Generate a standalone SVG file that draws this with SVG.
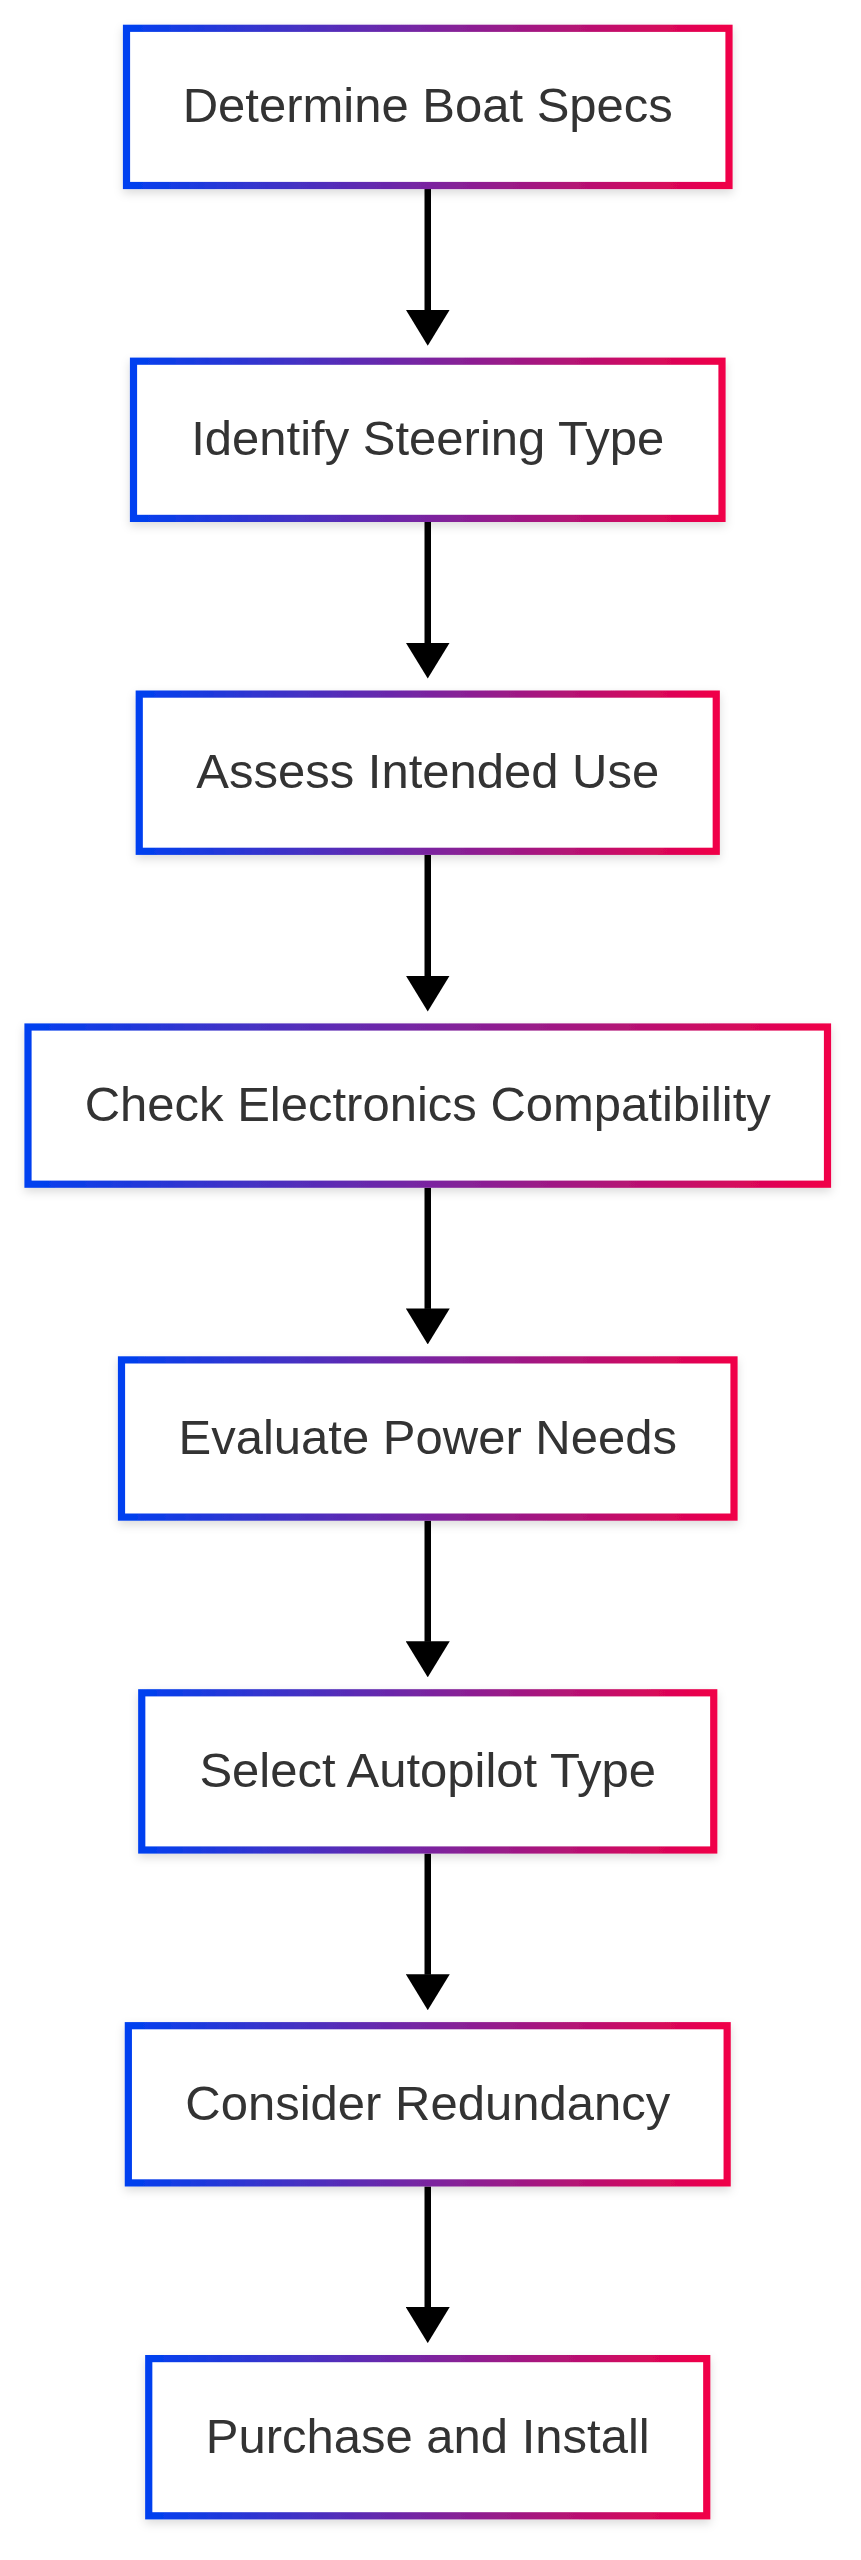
<svg xmlns="http://www.w3.org/2000/svg" width="861" height="2560" viewBox="0 0 861 2560">
<defs>
<linearGradient id="g" x1="0" y1="0" x2="1" y2="0">
<stop offset="0" stop-color="#0040f0"/>
<stop offset="0.5" stop-color="#7a24a0"/>
<stop offset="1" stop-color="#f00048"/>
</linearGradient>
<filter id="sh" x="-10%" y="-20%" width="120%" height="150%">
<feDropShadow dx="0" dy="4" stdDeviation="5" flood-color="#000" flood-opacity="0.14"/>
</filter>
<marker id="ah" viewBox="0 0 36 44" refX="0.5" refY="22" markerWidth="36" markerHeight="44" markerUnits="userSpaceOnUse" orient="auto">
<path d="M0,0 L36,22 L0,44 Z" fill="#000"/>
</marker>
</defs>
<style>
.box{fill:#fff;stroke:url(#g);stroke-width:7.2;filter:url(#sh)}
.lbl{font-family:"Liberation Sans",Arial,sans-serif;font-size:49px;fill:#333;text-anchor:middle}
.edge{stroke:#000;stroke-width:6.5;fill:none;marker-end:url(#ah)}
</style>
<rect width="861" height="2560" fill="#fff"/>
<g id="edges">
<path class="edge" d="M427.75,189 L427.75,310.2"/>
<path class="edge" d="M427.75,522 L427.75,643.1"/>
<path class="edge" d="M427.75,854.9 L427.75,976"/>
<path class="edge" d="M427.75,1187.8 L427.75,1308.9"/>
<path class="edge" d="M427.75,1520.7 L427.75,1641.8"/>
<path class="edge" d="M427.75,1853.6 L427.75,1974.7"/>
<path class="edge" d="M427.75,2186.5 L427.75,2307.6"/>
</g>
<g id="n1"><rect class="box" x="126.5" y="28.3" width="602.5" height="157.2"/><text class="lbl" x="427.75" y="122.4">Determine Boat Specs</text></g>
<g id="n2"><rect class="box" x="133.5" y="361.2" width="588.5" height="157.2"/><text class="lbl" x="427.75" y="455.3">Identify Steering Type</text></g>
<g id="n3"><rect class="box" x="139.25" y="694.1" width="577" height="157.2"/><text class="lbl" x="427.75" y="788.2">Assess Intended Use</text></g>
<g id="n4"><rect class="box" x="28" y="1027" width="799.5" height="157.2"/><text class="lbl" x="427.75" y="1121.1">Check Electronics Compatibility</text></g>
<g id="n5"><rect class="box" x="121.5" y="1359.9" width="612.5" height="157.2"/><text class="lbl" x="427.75" y="1454">Evaluate Power Needs</text></g>
<g id="n6"><rect class="box" x="141.75" y="1692.8" width="572" height="157.2"/><text class="lbl" x="427.75" y="1786.9">Select Autopilot Type</text></g>
<g id="n7"><rect class="box" x="128.35" y="2025.7" width="598.8" height="157.2"/><text class="lbl" x="427.75" y="2119.8">Consider Redundancy</text></g>
<g id="n8"><rect class="box" x="148.75" y="2358.6" width="558" height="157.2"/><text class="lbl" x="427.75" y="2452.7">Purchase and Install</text></g>
</svg>
